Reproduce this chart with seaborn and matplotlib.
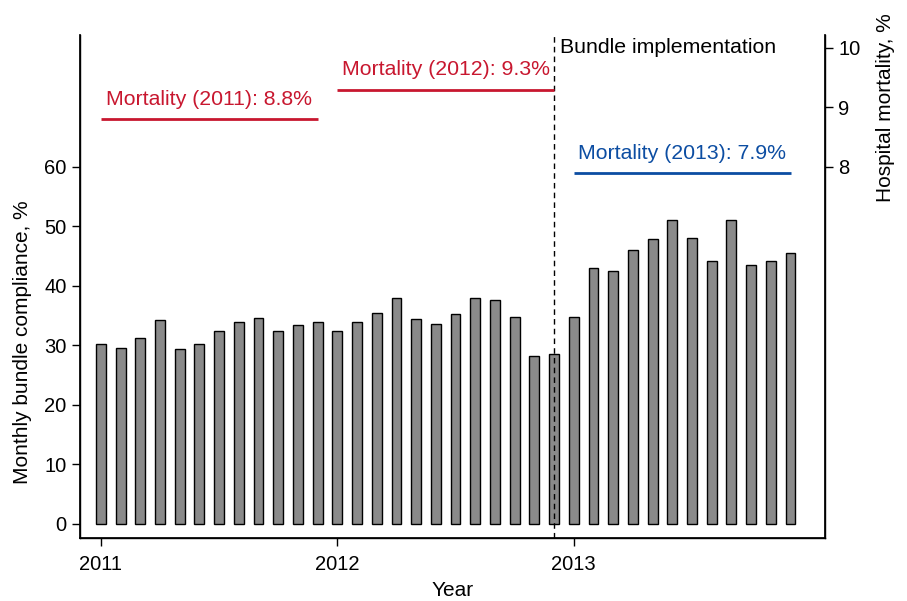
import numpy as np
import pandas as pd
import matplotlib
matplotlib.use('Agg')
import matplotlib.pyplot as plt
import seaborn as sns

# Dados mensais (jan/2011 - dez/2013)
compliance = [30.3, 29.6, 31.3, 34.2, 29.4, 30.2, 32.5, 33.9, 34.6, 32.5, 33.5, 34.0,
              32.5, 34.0, 35.5, 38.0, 34.4, 33.6, 35.2, 38.0, 37.6, 34.8, 28.2, 28.5,
              34.8, 43.0, 42.5, 46.0, 47.9, 51.1, 48.0, 44.2, 51.0, 43.6, 44.2, 45.5]
months = list(range(len(compliance)))
years = ['2011', '2012', '2013']
mortality = [8.8, 9.3, 7.9]
mort_colors = ['#c8172f', '#c8172f', '#0c4da2']
implementation_month = 23

df = pd.DataFrame({'month': months, 'compliance': compliance})

sns.set_theme(style='ticks')
plt.rcParams['font.family'] = ['Liberation Sans', 'DejaVu Sans']
plt.rcParams.update({'text.color': 'black', 'axes.labelcolor': 'black',
                     'xtick.color': 'black', 'ytick.color': 'black',
                     'axes.edgecolor': 'black'})

fig = plt.figure(figsize=(9.07, 6.01), dpi=100)
ax = fig.add_axes([0.088, 0.105, 0.8216, 0.837])

sns.barplot(data=df, x='month', y='compliance', color='#8a8a8a', saturation=1,
            width=0.5, edgecolor='black', linewidth=1, ax=ax)

ax.set_xlim(-1.07, 36.75)
ax.set_ylim(-2.35, 82.2)
ax.set_yticks([0, 10, 20, 30, 40, 50, 60])
ax.set_xticks([0, 12, 24])
ax.set_xticklabels(years)
ax.tick_params(axis='both', labelsize=14.5, length=6, width=1, direction='out')
ax.tick_params(axis='x', pad=6)
ax.set_xlabel('Year', fontsize=15, labelpad=5)
ax.set_ylabel('Monthly bundle compliance, %', fontsize=15)
ax.yaxis.set_label_coords(-0.064, 0.39)
ax.spines['top'].set_visible(False)
for s in ['left', 'bottom', 'right']:
    ax.spines[s].set_linewidth(1)

# eixo da mortalidade (direita)
ax2 = ax.twinx()
ax2.set_ylim(-2.35 / 10 + 2, 82.2 / 10 + 2)
ax2.set_yticks([8, 9, 10])
ax2.tick_params(axis='y', labelsize=14.5, length=6, width=1)
ax2.set_ylabel('Hospital mortality, %', fontsize=15)
ax2.yaxis.set_label_coords(1.068, 0.855)
ax2.spines['top'].set_visible(False)
ax2.grid(False)

for i, (m, c) in enumerate(zip(mortality, mort_colors)):
    x0, x1 = 12 * i, 12 * i + 11
    ax2.plot([x0, x1], [m, m], color=c, lw=2, solid_capstyle='butt')
    ax2.text((x0 + x1) / 2, m + 0.33, f'Mortality ({years[i]}): {m}%',
             color=c, fontsize=15.3, ha='center', va='center')

ax.axvline(implementation_month, color='black', ls=(0, (4, 3)), lw=1)
ax2.text(implementation_month + 0.3, 10.0, 'Bundle implementation',
         fontsize=15.3, ha='left', va='center')

plt.savefig('out.png', dpi=100)
